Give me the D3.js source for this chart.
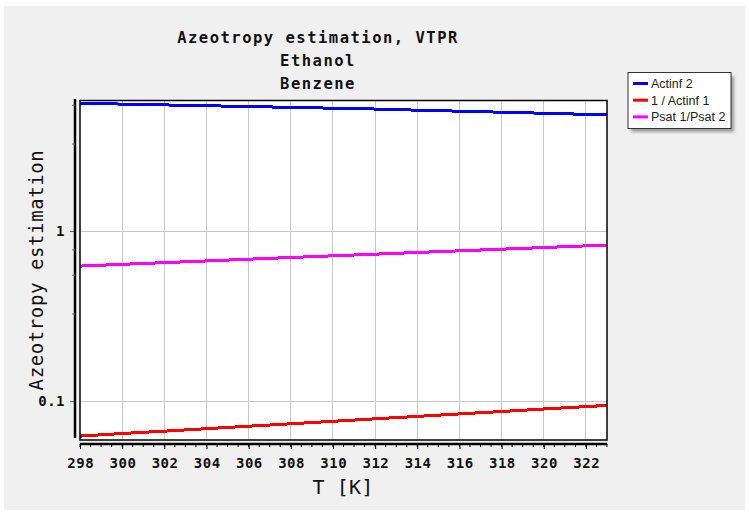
<!DOCTYPE html>
<html><head><meta charset="utf-8">
<script src="https://cdn.jsdelivr.net/npm/d3@7/dist/d3.min.js"></script>
<style>body{margin:0;background:#fff;overflow:hidden}</style>
</head><body><svg id="c" width="749" height="513"></svg>
<script>
// ---- data ----
const temperatures = [298,300,302,304,306,308,310,312,314,316,318,320,322,323];
const actinf2      = [5.66,5.58,5.52,5.46,5.40,5.34,5.28,5.22,5.14,5.07,5.00,4.93,4.86,4.82];
const invActinf1   = [0.0622,0.0644,0.0665,0.0688,0.0711,0.0735,0.0760,0.0786,0.0812,0.0840,0.0868,0.0898,0.0927,0.0943];
const psatRatio    = [0.622,0.637,0.652,0.667,0.683,0.699,0.715,0.731,0.748,0.765,0.782,0.800,0.818,0.827];
const seriesNames  = ["Actinf 2","1 / Actinf 1","Psat 1/Psat 2"];
const seriesColors = ["#0000ff","#ff0000","#ff00ff"];
const xTickValues  = [298,300,302,304,306,308,310,312,314,316,318,320,322];
const xMinorTicks  = d3.range(298,323.01,0.5);
const yTickValues  = [0.1,1];
const yTickLabels  = ["0.1","1"];
const yMinorTicks  = [0.325,0.55,0.775,3.25,5.5];
const titleLines   = ["Azeotropy estimation, VTPR","Ethanol","Benzene"];
const xAxisTitle   = "T [K]";
const yAxisTitle   = "Azeotropy estimation";
const xDomain = [298,323];
const yDomain = [0.059,5.86];

// ---- layout ----
const W=749,H=513;
const L=80,R=607,T=100.5,B=440;
const svg=d3.select("#c");
const mono="'DejaVu Sans Mono', monospace";

svg.append("rect").attr("x",4).attr("y",6).attr("width",741).attr("height",504).attr("fill","#f0f0f0");

const x=d3.scaleLinear().domain(xDomain).range([L,R]);
const y=d3.scaleLog().domain(yDomain).range([B,T]);

// plot background
svg.append("rect").attr("x",L).attr("y",T).attr("width",R-L).attr("height",B-T).attr("fill","#fff");

// grid
const grid=svg.append("g").attr("stroke","#c8c8c8").attr("stroke-width",1).attr("shape-rendering","crispEdges");
grid.selectAll(".gx").data(xTickValues.slice(1)).join("line")
  .attr("x1",d=>x(d)).attr("x2",d=>x(d)).attr("y1",T).attr("y2",B);
grid.selectAll(".gy").data(yTickValues).join("line")
  .attr("x1",L).attr("x2",R).attr("y1",d=>y(d)).attr("y2",d=>y(d));

// series
const seriesData=[actinf2,invActinf1,psatRatio];
const line=d3.line().x(d=>x(d[0])).y(d=>y(d[1]));
seriesData.forEach((vals,i)=>{
  svg.append("path").datum(temperatures.map((t,j)=>[t,vals[j]]))
    .attr("d",line).attr("fill","none").attr("stroke",seriesColors[i])
    .attr("stroke-width",3).attr("shape-rendering","crispEdges");
});

// plot border
svg.append("rect").attr("x",L).attr("y",T).attr("width",R-L).attr("height",B-T)
  .attr("fill","none").attr("stroke","#000").attr("stroke-width",1.5);

// x axis
const xg=svg.append("g").attr("transform","translate(0,444)");
xg.call(d3.axisBottom(x).tickValues(xTickValues).tickSize(5).tickFormat(d3.format("d")));
xg.select(".domain").remove();
xg.append("line").attr("x1",L).attr("x2",R).attr("y1",0).attr("y2",0).attr("stroke","#000").attr("stroke-width",2.5);
xg.selectAll(".minor").data(xMinorTicks).join("line")
  .attr("x1",d=>x(d)).attr("x2",d=>x(d)).attr("y1",0).attr("y2",3).attr("stroke","#000").attr("stroke-width",1);
xg.selectAll(".tick text").attr("font-family",mono).attr("font-weight","bold").attr("font-size",14)
  .attr("letter-spacing","0.5px").attr("fill","#111").attr("dy",0).attr("y",24).attr("dx",0.25);
xg.selectAll(".tick line").attr("stroke-width",1);

// y axis
const yg=svg.append("g").attr("transform","translate(75,0)");
yg.call(d3.axisLeft(y).tickValues(yTickValues).tickSize(5).tickFormat((d,i)=>yTickLabels[i]));
yg.select(".domain").remove();
yg.append("line").attr("x1",0).attr("x2",0).attr("y1",99).attr("y2",438).attr("stroke","#000").attr("stroke-width",2.5);
yg.selectAll(".minor").data(yMinorTicks).join("line")
  .attr("x1",-3).attr("x2",0).attr("y1",d=>y(d)).attr("y2",d=>y(d)).attr("stroke","#666").attr("stroke-width",1);
yg.selectAll(".tick text").attr("font-family",mono).attr("font-weight","bold").attr("font-size",14)
  .attr("letter-spacing","0.5px").attr("fill","#111").attr("x",-10);
yg.selectAll(".tick line").attr("stroke-width",1).attr("stroke","#666");

// titles
svg.append("g").selectAll("text").data(titleLines).join("text")
  .attr("x",318).attr("y",(d,i)=>42.5+i*23)
  .attr("text-anchor","middle").attr("font-family",mono).attr("font-weight","bold")
  .attr("font-size",15.5).attr("letter-spacing","1.5px").attr("fill","#111").text(d=>d);

svg.append("text").attr("x",343).attr("y",494).attr("text-anchor","middle")
  .attr("font-family",mono).attr("font-size",20).attr("letter-spacing","0.2px").attr("fill","#111").text(xAxisTitle);

svg.append("text").attr("transform","translate(43,270) rotate(-90)").attr("text-anchor","middle")
  .attr("font-family",mono).attr("font-size",19).attr("letter-spacing","0.6px").attr("fill","#111").text(yAxisTitle);

// legend
const defs=svg.append("defs");
const f=defs.append("filter").attr("id","sh").attr("x","-20%").attr("y","-20%").attr("width","150%").attr("height","160%");
f.append("feGaussianBlur").attr("stdDeviation",1.5);
const lg=svg.append("g");
lg.append("rect").attr("x",631).attr("y",76).attr("width",103).attr("height",56).attr("fill","#888").attr("filter","url(#sh)").attr("opacity",0.8);
lg.append("rect").attr("x",628).attr("y",72.5).attr("width",103).attr("height",56).attr("fill","#fff").attr("stroke","#333").attr("stroke-width",1);
seriesNames.forEach((n,i)=>{
  const yy=83.5+i*16.7;
  lg.append("line").attr("x1",633).attr("x2",648).attr("y1",yy).attr("y2",yy).attr("stroke",seriesColors[i]).attr("stroke-width",3);
  lg.append("text").attr("x",651).attr("y",yy+4.5).attr("font-family","'Liberation Sans', Arial, sans-serif")
    .attr("font-size",12.5).attr("fill","#222").text(n);
});
</script></body></html>
